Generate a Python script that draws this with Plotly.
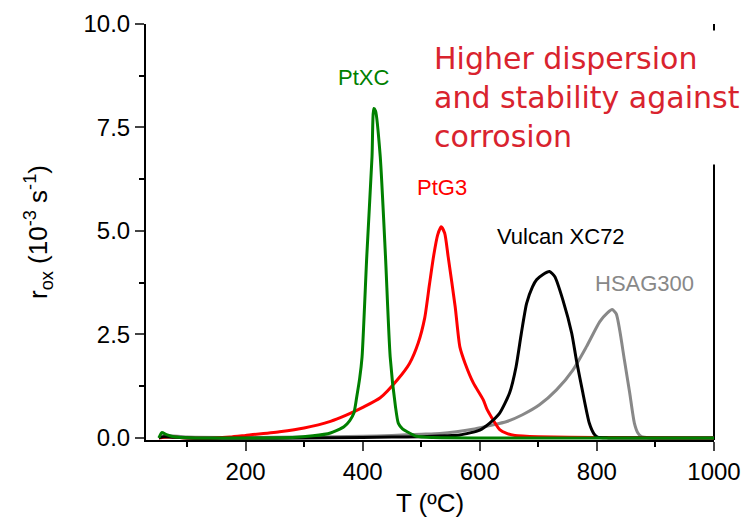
import plotly.graph_objects as go

# PtXC (green)
T_ptxc = [52, 57, 65, 80, 120, 200, 280, 315, 345, 368, 378, 385, 390, 395, 399, 407, 416, 419, 422, 430, 439, 447, 456, 461, 468, 476, 492, 520, 600, 800, 1000]
r_ptxc = [0, 0.13, 0.08, 0.02, 0, 0, 0.01, 0.05, 0.12, 0.27, 0.42, 0.6, 1.0, 1.45, 1.96, 4.38, 6.8, 7.96, 7.9, 6.8, 4.38, 1.96, 0.76, 0.35, 0.22, 0.15, 0.04, 0.01, 0, 0, 0]

# PtG3 (red)
T_ptg3 = [52, 70, 100, 150, 173, 200, 258, 300, 345, 372, 402, 430, 459, 480, 495, 506, 514, 521, 528, 534, 540, 546, 558, 566, 575, 589, 606, 612, 620, 634, 646, 660, 700, 800, 1000]
r_ptg3 = [0, 0.02, 0.0, 0.0, 0.02, 0.06, 0.15, 0.24, 0.4, 0.55, 0.75, 0.97, 1.4, 1.8, 2.3, 2.9, 3.7, 4.38, 4.9, 5.1, 4.95, 4.38, 3.17, 2.2, 1.8, 1.33, 0.92, 0.7, 0.5, 0.2, 0.11, 0.06, 0.03, 0.01, 0.0]

# Vulcan XC72 (black)
T_vulcan = [52, 60, 100, 200, 300, 400, 450, 500, 540, 566, 600, 617, 634, 651, 662, 671, 680, 690, 697, 708, 719, 728, 742, 757, 765, 776, 787, 795, 801, 820, 1000]
r_vulcan = [0, 0.03, 0, -0.01, 0, 0.01, 0.02, 0.03, 0.05, 0.07, 0.19, 0.36, 0.6, 1.09, 1.72, 2.53, 3.25, 3.65, 3.82, 3.95, 4.02, 3.9, 3.33, 2.53, 1.88, 1.09, 0.36, 0.1, 0.02, 0, 0]

# HSAG300 (grey)
T_hsag = [52, 60, 100, 200, 300, 400, 450, 500, 532, 560, 588, 617, 645, 673, 702, 731, 759, 782, 805, 818, 826, 833, 839, 847, 856, 864, 870, 876, 890, 1000]
r_hsag = [0, 0.06, 0.02, 0.01, 0.02, 0.04, 0.06, 0.09, 0.11, 0.15, 0.21, 0.3, 0.39, 0.56, 0.8, 1.16, 1.64, 2.2, 2.81, 3.02, 3.1, 3.0, 2.6, 1.88, 1.09, 0.36, 0.12, 0.03, 0, 0]

x_ticks = [200, 400, 600, 800, 1000]
y_ticks = [0.0, 2.5, 5.0, 7.5, 10.0]
y_ticklabels = ["0.0", "2.5", "5.0", "7.5", "10.0"]

series = [
    ("HSAG300", T_hsag, r_hsag, "#888888"),
    ("PtG3", T_ptg3, r_ptg3, "#ff0000"),
    ("Vulcan XC72", T_vulcan, r_vulcan, "#000000"),
    ("PtXC", T_ptxc, r_ptxc, "#008000"),
]

fig = go.Figure()
for name, xs, ys, col in series:
    fig.add_trace(go.Scatter(x=xs, y=ys, mode="lines", name=name,
                             line=dict(color=col, width=3, shape="spline", smoothing=0.6),
                             showlegend=False))

labels = [
    ("PtXC", 401, 8.7, "#008000"),
    ("PtG3", 536, 6.06, "#ff0000"),
    ("Vulcan XC72", 739, 4.86, "#000000"),
    ("HSAG300", 882, 3.72, "#888888"),
]
for txt, x, y, col in labels:
    fig.add_annotation(x=x, y=y, text=txt, showarrow=False,
                       font=dict(family="Liberation Sans, Arial", size=22, color=col))

fig.add_annotation(xref="paper", yref="paper", x=0.488, y=0.985, xanchor="left", yanchor="top",
                   text="Higher dispersion<br>and stability against<br>corrosion",
                   showarrow=False, align="left", bgcolor="white", borderpad=10,
                   font=dict(family="DejaVu Sans", size=30, color="#d9232e"))

fig.add_shape(type="line", xref="paper", yref="paper", x0=1, x1=1, y0=0, y1=1,
              line=dict(color="black", width=2), layer="below")

tick_font = dict(family="Liberation Sans, Arial", size=24, color="black")
title_font = dict(family="Liberation Sans, Arial", size=26, color="black")
fig.update_xaxes(range=[30, 1000], tickvals=x_ticks, ticks="outside", ticklen=9, tickwidth=1.5,
                 showline=True, linecolor="black", linewidth=2, showgrid=False, zeroline=False,
                 automargin=False,
                 tickfont=tick_font, minor=dict(dtick=100, tick0=0, ticks="outside", ticklen=5, tickwidth=1.5, tickcolor="black"),
                 title=dict(text="T (ºC)", font=title_font, standoff=10))
fig.update_yaxes(range=[-0.05, 10], tickvals=y_ticks, ticktext=y_ticklabels, ticks="outside", ticklen=9, tickwidth=1.5,
                 showline=True, linecolor="black", linewidth=2, showgrid=False, zeroline=False,
                 automargin=False,
                 tickfont=tick_font, minor=dict(dtick=1.25, tick0=0, ticks="outside", ticklen=5, tickwidth=1.5, tickcolor="black"),
                 title=dict(text="r<sub>ox</sub> (10<sup>-3</sup> s<sup>-1</sup>)", font=title_font, standoff=28))

fig.update_layout(width=751, height=523, margin=dict(l=138, r=45, t=16, b=91),
                  plot_bgcolor="white", paper_bgcolor="white")

fig.write_html("out.html")
